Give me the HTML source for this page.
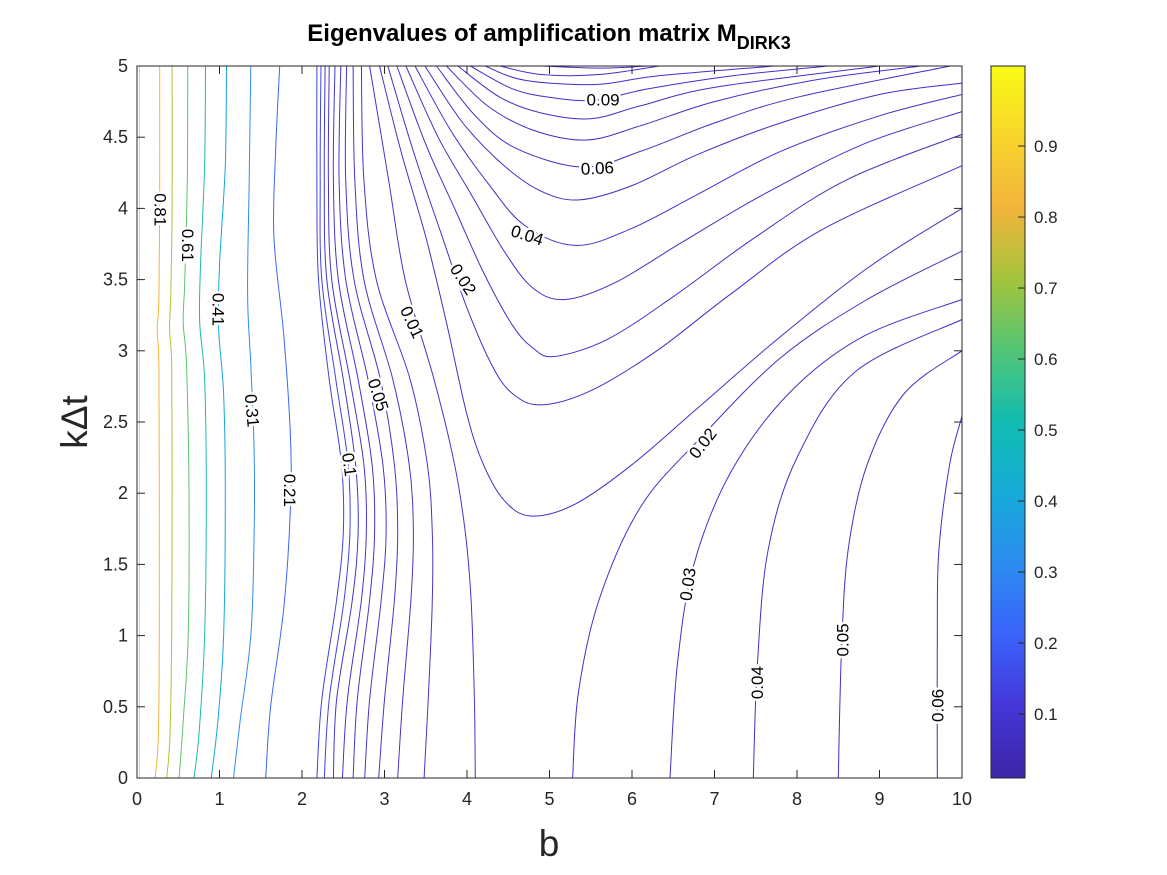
<!DOCTYPE html>
<html><head><meta charset="utf-8"><style>
body{margin:0;background:#fff;}
svg{display:block;font-family:"Liberation Sans",Arial,sans-serif;}
</style></head><body>
<svg id="chart" width="1167" height="875" viewBox="0 0 1167 875">
<defs>
<linearGradient id="parula" x1="0" y1="1" x2="0" y2="0">
<stop offset="0" stop-color="#3e26a8"/><stop offset="0.1" stop-color="#4436d8"/><stop offset="0.2" stop-color="#3a62fa"/>
<stop offset="0.3" stop-color="#2c8cf0"/><stop offset="0.4" stop-color="#16abd8"/><stop offset="0.5" stop-color="#10bcb0"/>
<stop offset="0.6" stop-color="#52c576"/><stop offset="0.7" stop-color="#a3c43c"/><stop offset="0.8" stop-color="#f2b43c"/>
<stop offset="0.9" stop-color="#f8d52c"/><stop offset="1" stop-color="#f9fb14"/>
</linearGradient>
</defs>
<g id="contours"></g>
<g id="labels"></g>
<rect x="137" y="66" width="825" height="712" fill="none" stroke="#262626" stroke-width="1"/>
<g id="axes"></g>
<text x="549" y="41" text-anchor="middle" font-size="24" font-weight="bold" fill="#000">Eigenvalues of amplification matrix M<tspan font-size="18" dy="8">DIRK3</tspan></text>
<text x="549" y="856" text-anchor="middle" font-size="37" fill="#262626">b</text>
<text transform="translate(87,422) rotate(-90)" text-anchor="middle" font-size="37" fill="#262626">kΔt</text>
<rect x="991" y="66" width="34" height="712" fill="url(#parula)" stroke="#262626" stroke-width="1"/>
<g id="cbar"></g>
</svg>
<script>
const xTicks=[0,1,2,3,4,5,6,7,8,9,10];
const yTicks=[0,0.5,1,1.5,2,2.5,3,3.5,4,4.5,5];
const cbTicks=[0.1,0.2,0.3,0.4,0.5,0.6,0.7,0.8,0.9];
const cLevels=[0.91,0.81,0.71,0.61,0.51,0.41,0.31,0.21];
const cLeft=[
[[0.03,0],[0.03,5]],
[[0.22,0],[0.26,0.3],[0.27,1],[0.27,2],[0.265,2.9],[0.245,3.15],[0.265,3.35],[0.275,4],[0.275,5]],
[[0.36,0],[0.40,0.3],[0.42,1],[0.425,2],[0.42,2.9],[0.395,3.15],[0.41,3.4],[0.425,4],[0.425,5]],
[[0.51,0],[0.56,0.4],[0.62,1],[0.63,2],[0.6,2.9],[0.56,3.2],[0.58,3.5],[0.61,4.2],[0.615,5]],
[[0.69,0],[0.75,0.3],[0.82,1],[0.84,2],[0.82,2.8],[0.76,3.2],[0.77,3.6],[0.82,4.3],[0.83,5]],
[[0.9,0],[0.98,0.4],[1.05,1],[1.07,2],[1.05,2.7],[0.99,3.15],[1.0,3.6],[1.07,4.3],[1.085,5]],
[[1.17,0],[1.25,0.4],[1.38,1],[1.42,1.7],[1.42,2.3],[1.38,2.9],[1.34,3.4],[1.36,4.2],[1.38,5]],
[[1.56,0],[1.62,0.5],[1.78,1.2],[1.86,1.9],[1.86,2.4],[1.78,3.1],[1.66,3.8],[1.68,4.4],[1.73,5]]
];
const midK=[0,0.55,1.25,1.72,2.2,2.8,3.5,4.2,5.0];
const midB=[
[2.18,2.24,2.42,2.50,2.48,2.33,2.20,2.18,2.18],
[2.27,2.33,2.51,2.58,2.56,2.41,2.24,2.22,2.23],
[2.38,2.42,2.61,2.68,2.65,2.50,2.30,2.27,2.28],
[2.49,2.55,2.72,2.78,2.75,2.58,2.36,2.32,2.33],
[2.62,2.67,2.82,2.88,2.85,2.68,2.44,2.38,2.40],
[2.76,2.82,2.96,3.02,2.98,2.80,2.53,2.45,2.47],
[2.93,3.00,3.12,3.16,3.12,2.95,2.63,2.53,2.54],
[3.16,3.22,3.32,3.35,3.30,3.10,2.75,2.64,2.62],
[3.48,3.53,3.58,3.58,3.52,3.31,2.90,2.75,2.72],
[4.10,4.09,4.05,3.98,3.85,3.60,3.25,3.05,2.82]
];
const cRight=[
[[5.28,0],[5.35,0.6],[5.6,1.25],[6.1,1.9],[6.8,2.37],[7.8,2.95],[8.85,3.36],[10,3.7]],
[[6.46,0],[6.55,0.8],[6.75,1.5],[7.2,2.15],[7.9,2.7],[8.8,3.1],[10,3.36]],
[[7.47,0],[7.52,0.8],[7.65,1.6],[8.0,2.25],[8.7,2.85],[10,3.22]],
[[8.5,0],[8.54,0.9],[8.62,1.6],[8.85,2.2],[9.3,2.7],[10,3.0]],
[[9.7,0],[9.7,1.0],[9.72,1.6],[9.85,2.2],[10,2.54]]
];
const cU=[
[[2.94,5],[3.2,4.4],[3.5,3.8],[3.75,3.2],[4.0,2.55],[4.2,2.2],[4.45,1.95],[4.77,1.84],[5.3,1.92],[6.0,2.2],[6.8,2.6],[7.8,3.1],[8.9,3.6],[10,4.0]],
[[3.04,5],[3.35,4.4],[3.7,3.8],[4.0,3.3],[4.3,2.9],[4.55,2.7],[4.9,2.62],[5.5,2.72],[6.3,3.0],[7.2,3.4],[8.3,3.85],[10,4.3]],
[[3.15,5],[3.5,4.45],[3.85,4.0],[4.2,3.55],[4.55,3.18],[4.8,3.02],[5.06,2.96],[5.7,3.08],[6.5,3.38],[7.5,3.8],[8.6,4.2],[10,4.52]],
[[3.26,5],[3.65,4.5],[4.05,4.1],[4.45,3.7],[4.8,3.44],[5.19,3.36],[5.8,3.48],[6.6,3.76],[7.6,4.1],[8.8,4.45],[10,4.68]],
[[3.37,5],[3.8,4.55],[4.25,4.18],[4.7,3.88],[5.32,3.74],[6.0,3.86],[6.8,4.1],[7.8,4.4],[9.0,4.65],[10,4.8]],
[[3.49,5],[3.95,4.6],[4.45,4.3],[4.9,4.12],[5.36,4.06],[6.0,4.16],[6.8,4.38],[7.8,4.6],[9.0,4.8],[10,4.88]],
[[3.63,5],[4.1,4.65],[4.6,4.42],[5.41,4.29],[6.1,4.4],[7.0,4.6],[8.0,4.78],[9.86,5]],
[[3.75,5],[4.25,4.72],[4.8,4.55],[5.45,4.48],[6.1,4.58],[7.0,4.75],[8.2,4.9],[9.5,5]],
[[3.89,5],[4.4,4.78],[4.9,4.67],[5.5,4.63],[6.1,4.72],[7.0,4.85],[9.0,5]],
[[4.04,5],[4.55,4.84],[5.0,4.78],[5.54,4.76],[6.2,4.84],[7.2,4.93],[8.38,5]],
[[4.22,5],[4.7,4.9],[5.56,4.87],[6.3,4.93],[7.73,5]],
[[4.4,5],[4.9,4.94],[5.6,4.94],[6.33,5]],
[[4.9,5],[5.6,4.985],[6.2,5]]
];
const labelText=["0.81","0.61","0.41","0.31","0.21","0.1","0.05","0.01","0.02","0.04","0.06","0.09","0.02","0.03","0.04","0.05","0.06"];
const labelB=[0.28,0.61,0.98,1.39,1.85,2.57,2.92,3.33,3.95,4.73,5.58,5.65,6.86,6.68,7.52,8.56,9.71];
const labelK=[3.99,3.74,3.29,2.58,2.02,2.2,2.69,3.2,3.5,3.81,4.28,4.76,2.35,1.36,0.67,0.97,0.51];
const labelAng=[90,90,90,85,90,82,72,65,57,18,-3,0,-52,-82,-90,-90,-90];

const NS="http://www.w3.org/2000/svg";
const X0=137,X1=962,Y0=778,Y1=66;
function sx(b){return X0+(b/10)*(X1-X0);}
function sy(k){return Y0-(k/5)*(Y0-Y1);}
function cy(v){return 778-(v-0.0099)*710;}
function path(pts){
 const p=pts.map(q=>[sx(q[0]),sy(q[1])]);
 let d="M"+p[0][0].toFixed(1)+","+p[0][1].toFixed(1);
 for(let i=0;i<p.length-1;i++){
  const a=p[Math.max(i-1,0)],b=p[i],c=p[i+1],e=p[Math.min(i+2,p.length-1)];
  const c1=[b[0]+(c[0]-a[0])/6,b[1]+(c[1]-a[1])/6],c2=[c[0]-(e[0]-b[0])/6,c[1]-(e[1]-b[1])/6];
  d+=" C"+c1[0].toFixed(1)+","+c1[1].toFixed(1)+" "+c2[0].toFixed(1)+","+c2[1].toFixed(1)+" "+c[0].toFixed(1)+","+c[1].toFixed(1);
 }
 return d;
}
const leftCols=["#e9e02a","#f2b43a","#b3c23c","#5dc46a","#1eb8aa","#14a6dc","#2f8af2","#3b66f8"];
const g=document.getElementById("contours");
function addLine(pts,col,name){
 const el=document.createElementNS(NS,"path");
 el.setAttribute("d",path(pts));el.setAttribute("fill","none");el.setAttribute("stroke",col);el.setAttribute("stroke-width","1");
 
 
 g.appendChild(el);
}
cLeft.forEach((c,i)=>addLine(c,leftCols[i],"contour-"+cLevels[i]));
midB.forEach((row,i)=>addLine(row.map((b,j)=>[b,midK[j]]),i<2?"#4143e0":"#4235cc","contour-mid-"+i));
cRight.forEach((c,i)=>addLine(c,"#4030c8","contour-right-"+i));
cU.forEach((c,i)=>addLine(c,"#4030c8","contour-upper-"+i));
const lg=document.getElementById("labels");
labelText.forEach((t,i)=>{
 const el=document.createElementNS(NS,"text");
 const x=sx(labelB[i]),y=sy(labelK[i]);
 el.setAttribute("transform","translate("+x.toFixed(1)+","+y.toFixed(1)+") rotate("+labelAng[i]+")");
 el.setAttribute("text-anchor","middle");el.setAttribute("dominant-baseline","central");
 el.setAttribute("font-size","17");el.setAttribute("fill","#000");
 el.setAttribute("stroke","#fff");el.setAttribute("stroke-width","5");el.setAttribute("paint-order","stroke");
 el.textContent=t;
 
 
 lg.appendChild(el);
});
const ax=document.getElementById("axes");
function ln(x1,y1,x2,y2,par){const l=document.createElementNS(NS,"line");l.setAttribute("x1",x1);l.setAttribute("y1",y1);l.setAttribute("x2",x2);l.setAttribute("y2",y2);l.setAttribute("stroke","#262626");l.setAttribute("stroke-width","1");
 
 
 par.appendChild(l);}
function tx(x,y,s,anchor,size,par,name){const t=document.createElementNS(NS,"text");t.setAttribute("x",x);t.setAttribute("y",y);t.setAttribute("text-anchor",anchor);t.setAttribute("font-size",size);t.setAttribute("fill","#262626");t.textContent=s;
 
 
 par.appendChild(t);}
xTicks.forEach(v=>{const x=sx(v);ln(x,Y0,x,Y0-8,ax);ln(x,Y1,x,Y1+8,ax);tx(x,805,String(v),"middle",18,ax,"x-tick-label");});
yTicks.forEach(v=>{const y=sy(v);ln(X0,y,X0+8,y,ax);ln(X1,y,X1-8,y,ax);tx(128,y+6,String(v),"end",18,ax,"y-tick-label");});
const cb=document.getElementById("cbar");
cbTicks.forEach(v=>{const y=cy(v);ln(1025,y,1018,y,cb);tx(1034,y+6,String(v),"start",17,cb,"colorbar-tick-label");});
</script>
</body></html>
